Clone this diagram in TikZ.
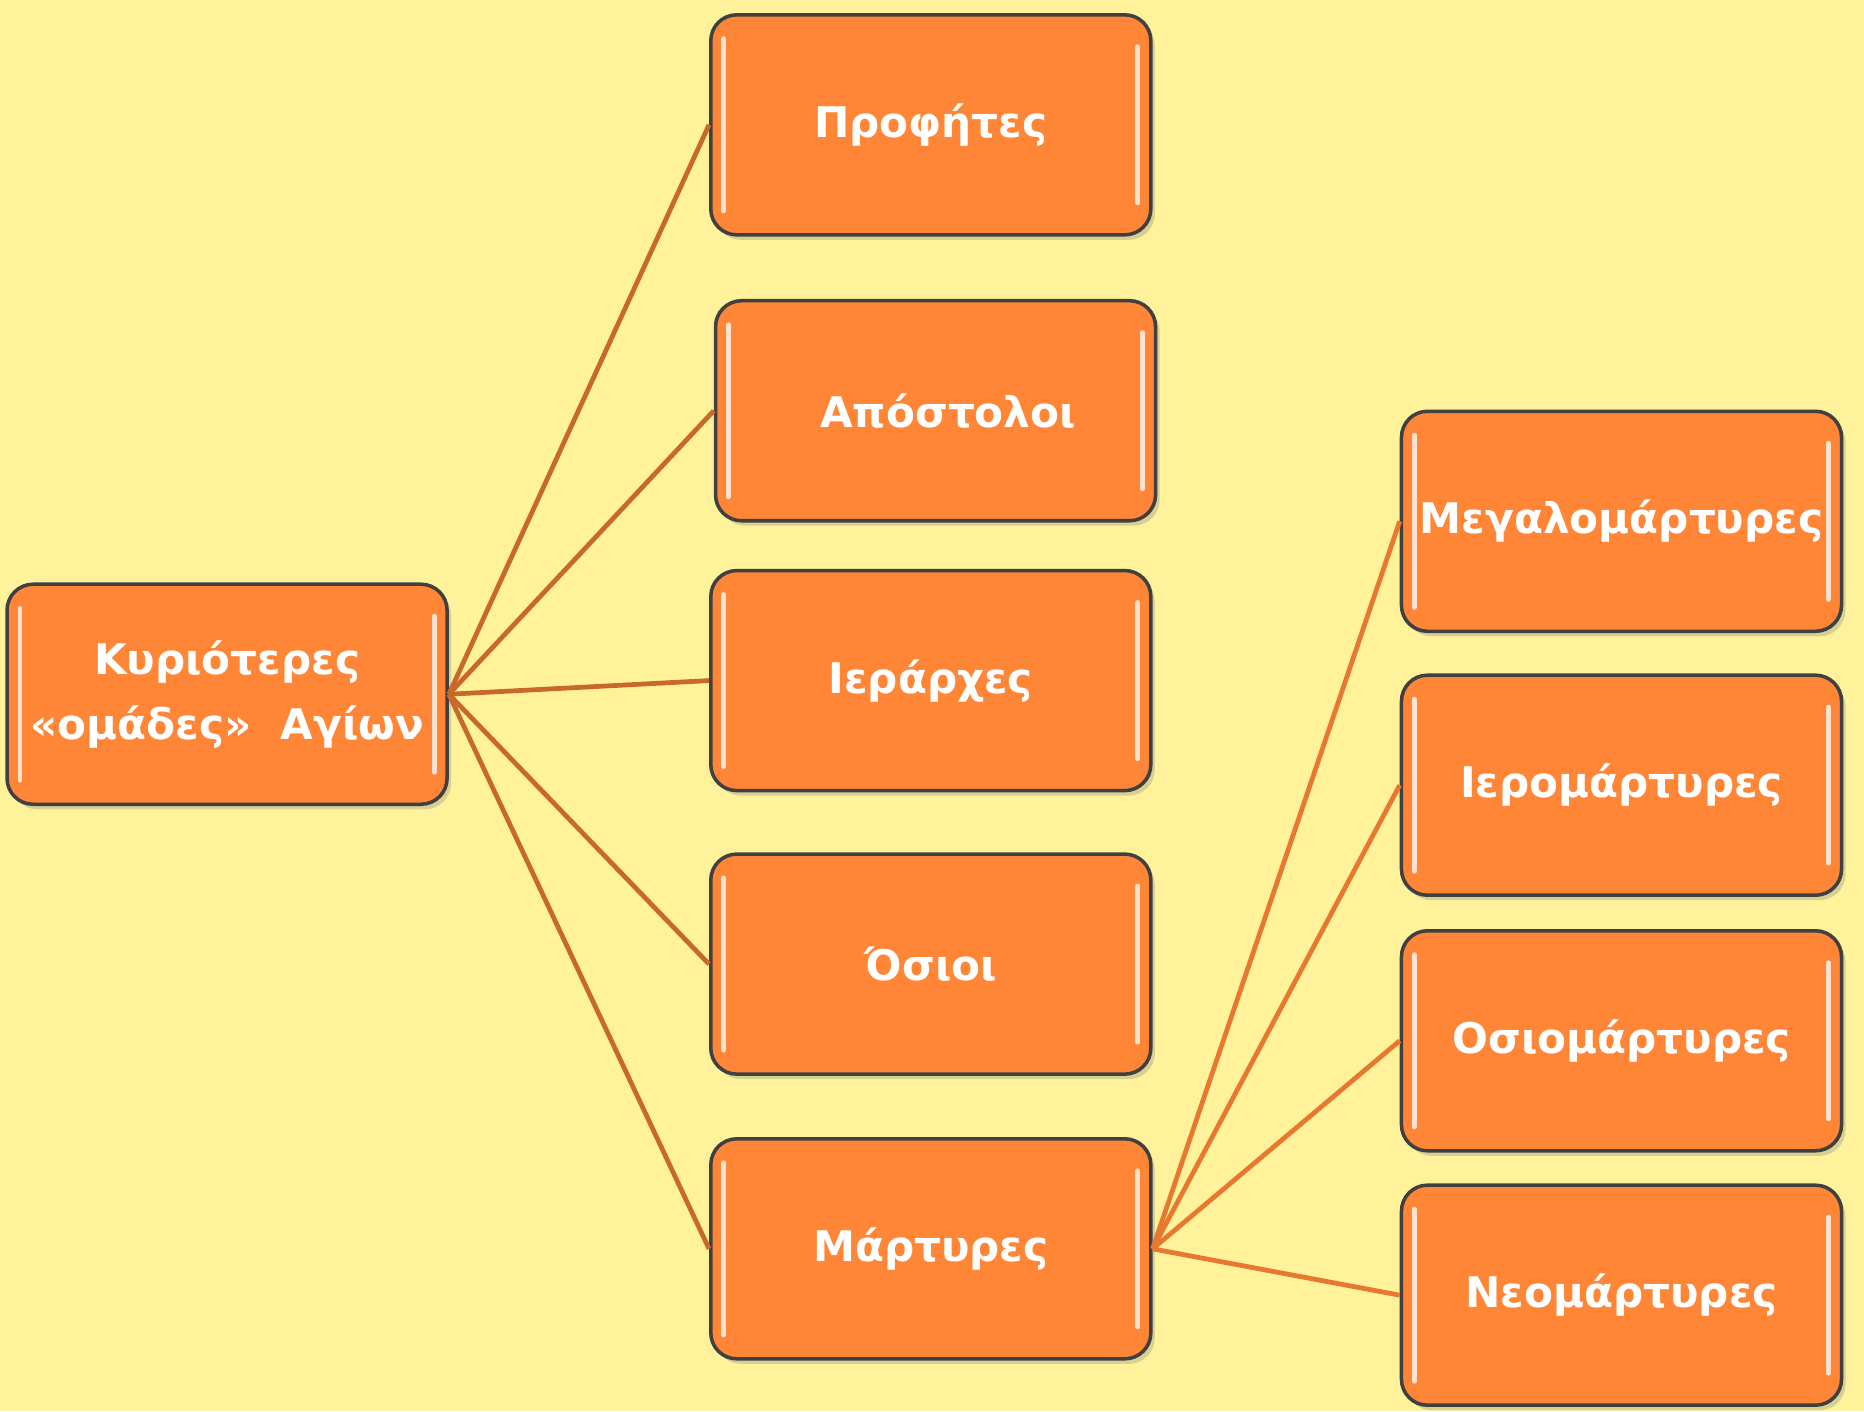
\documentclass[tikz,border=0pt]{standalone}
\usepackage{fontspec}
\setmainfont{DejaVu Sans}
\usetikzlibrary{positioning}
\usetikzlibrary{calc}
\usetikzlibrary{shadows}
\definecolor{bgyellow}{RGB}{255,242,155}
\definecolor{boxorange}{RGB}{254,134,54}
\definecolor{linkdark}{RGB}{200,105,42}
\definecolor{linklight}{RGB}{232,120,48}

\begin{document}
\begin{tikzpicture}[x=0.01189cm,y=-0.01189cm]
\tikzstyle{group} =[rectangle,rounded corners=0.26cm,draw=black!75,line width=1pt,fill=boxorange,minimum width=4.40cm,minimum height=2.20cm,inner xsep=0pt,text=white,font=\bfseries\fontsize{12}{18.5}\selectfont,align=center,drop shadow={opacity=0.3,shadow xshift=0.04cm,shadow yshift=-0.05cm},
  path picture={
    \draw[white!75!boxorange,line width=1.4pt,line cap=round] ($(path picture bounding box.north west)+(0.13cm,-0.24cm)$)--($(path picture bounding box.south west)+(0.13cm,0.24cm)$);
    \draw[white!75!boxorange,line width=1.4pt,line cap=round] ($(path picture bounding box.north east)+(-0.13cm,-0.32cm)$)--($(path picture bounding box.south east)+(-0.13cm,0.32cm)$);}]
\tikzstyle{link} =[linkdark,line width=1.35pt]
\fill[bgyellow] (0,0) rectangle (1568,1187);
\useasboundingbox (0,0) rectangle (1568,1187);

\node[group](saints) at (191,584) {Κυριότερες\\«ομάδες»~~Αγίων};

\node[group](prophets) at ($(saints)+(592,-479)$){Προφήτες};
\node[group](apostles) at ($(saints)+(596,-238.5)$){\hspace*{0.25cm}Απόστολοι};
\node[group](hierarchs) at ($(saints)+(592,-11.5)$){Ιεράρχες};
\node[group](venerable) at ($(saints)+(592,227)$){Όσιοι};
\node[group](martyrs) at ($(saints)+(592,466.5)$){Μάρτυρες};

\draw[link] (saints.east)--(prophets.west);
\draw[link] (saints.east)--(apostles.west);
\draw[link] (saints.east)--(hierarchs.west);
\draw[link] (saints.east)--(venerable.west);
\draw[link] (saints.east)--(martyrs.west);

\node[group](greatm) at ($(martyrs)+(581,-612)$){Μεγαλομάρτυρες};
\node[group](hierom) at ($(martyrs)+(581,-390)$){Ιερομάρτυρες};
\node[group](osiom) at ($(martyrs)+(581,-175)$){Οσιομάρτυρες};
\node[group](neom) at ($(martyrs)+(581,39)$){Νεομάρτυρες};

\draw[link,linklight] (martyrs.east)--(greatm.west);
\draw[link,linklight] (martyrs.east)--(hierom.west);
\draw[link,linklight] (martyrs.east)--(osiom.west);
\draw[link,linklight] (martyrs.east)--(neom.west);
\end{tikzpicture}
\end{document}
